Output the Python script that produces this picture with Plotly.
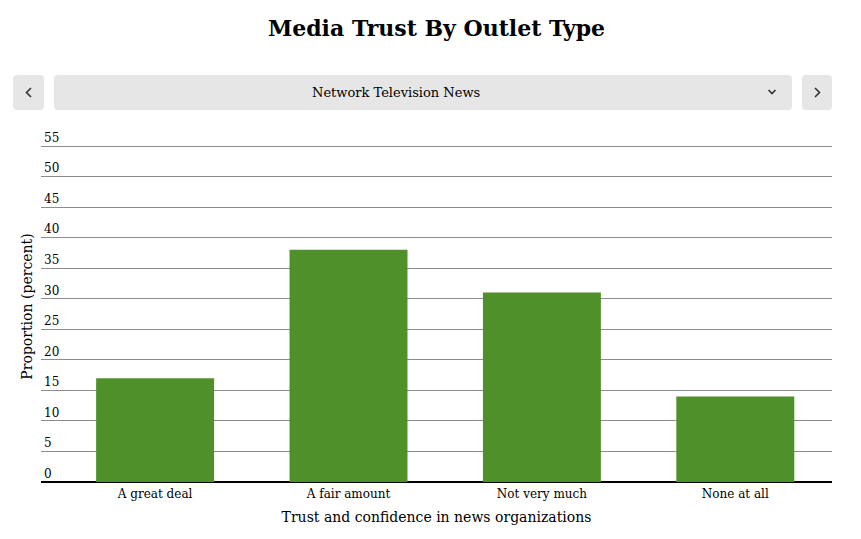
import plotly.graph_objects as go

# survey answers and share of respondents (percent) for the selected outlet
outlet = "Network Television News"
answers = ["A great deal", "A fair amount", "Not very much", "None at all"]
share = [17, 38, 31, 14]
yticks = [0, 5, 10, 15, 20, 25, 30, 35, 40, 45, 50, 55]

# page body has an 8px margin, so the figure is drawn 8px smaller and
# every reference pixel position below is shifted by OFF
OFF = 8
W_FIG, H_FIG = 861 - 2 * OFF, 539 - 2 * OFF
L, R, T, B = 33, 21, 123, 49
PW = W_FIG - L - R
PH = H_FIG - T - B
FONT = "DejaVu Serif, Liberation Serif, serif"


def px(x):
    return (x - OFF - L) / PW


def py(y):
    return (H_FIG - B - (y - OFF)) / PH


def round_box(x0, y0, x1, y1, r):
    # rounded rectangle path in paper coords, from reference pixel corners
    pts = [
        ("M", x0 + r, y0), ("L", x1 - r, y0), ("Q", x1, y0, x1, y0 + r),
        ("L", x1, y1 - r), ("Q", x1, y1, x1 - r, y1), ("L", x0 + r, y1),
        ("Q", x0, y1, x0, y1 - r), ("L", x0, y0 + r), ("Q", x0, y0, x0 + r, y0),
    ]
    out = ""
    for p in pts:
        cmd, vals = p[0], p[1:]
        coords = []
        for i in range(0, len(vals), 2):
            coords.append("%.5f,%.5f" % (px(vals[i]), py(vals[i + 1])))
        out += cmd + " ".join(coords) + " "
    return out + "Z"


def chevron(points):
    return "M" + " L".join("%.5f,%.5f" % (px(a), py(b)) for a, b in points)


fig = go.Figure()
fig.add_trace(go.Bar(
    x=answers, y=share,
    marker=dict(color="#4f902b", line=dict(width=0)),
    hovertemplate="%{x}: %{y}%<extra></extra>",
))

box_fill = "#e6e6e6"
shapes = [
    dict(type="path", path=round_box(13, 75, 44, 110, 4)),
    dict(type="path", path=round_box(54, 75, 792, 110, 4)),
    dict(type="path", path=round_box(802, 75, 832, 110, 4)),
]
for s in shapes:
    s.update(xref="paper", yref="paper", fillcolor=box_fill, line=dict(width=0), layer="below")

arrow_line = dict(color="#333333", width=1.6)
for pts in ([(31, 88), (26.5, 92.5), (31, 97)],
            [(815, 88), (819.5, 92.5), (815, 97)],
            [(768.5, 90), (772, 93.5), (775.5, 90)]):
    shapes.append(dict(type="path", path=chevron(pts), xref="paper", yref="paper",
                       line=arrow_line, fillcolor="rgba(0,0,0,0)"))

fig.update_layout(
    width=W_FIG, height=H_FIG,
    margin=dict(l=L, r=R, t=T, b=B),
    paper_bgcolor="white", plot_bgcolor="white",
    font=dict(family=FONT, color="#111111", size=12),
    showlegend=False,
    bargap=0.39,
    title=dict(text="<b>Media Trust By Outlet Type</b>", x=0.5, xref="paper",
               y=1 - (28 - OFF) / H_FIG, yanchor="middle", font=dict(size=22, color="black")),
    shapes=shapes,
    annotations=[dict(text=outlet, xref="paper", yref="paper", x=px(396), y=py(92.5),
                      showarrow=False, font=dict(size=13, color="black"),
                      xanchor="center", yanchor="middle")],
    xaxis=dict(
        range=[-0.59, 3.5], showgrid=False, showline=False, ticks="",
        tickfont=dict(size=12, color="black"), ticklabelstandoff=3,
        title=dict(text="Trust and confidence in news organizations",
                   font=dict(size=14, color="black"), standoff=12),
        automargin=False, fixedrange=True,
    ),
    yaxis=dict(
        range=[0, PH / 6.109], tickvals=yticks, ticklabelposition="inside top",
        ticklabeloverflow="allow",
        showgrid=True, gridcolor="#8c8c8c", gridwidth=1,
        zeroline=True, zerolinecolor="black", zerolinewidth=2,
        tickfont=dict(size=12, color="black"),
        title=dict(text="Proportion (percent)", font=dict(size=14, color="black"), standoff=8),
        automargin=False, fixedrange=True,
    ),
)

fig.write_html("out.html")
